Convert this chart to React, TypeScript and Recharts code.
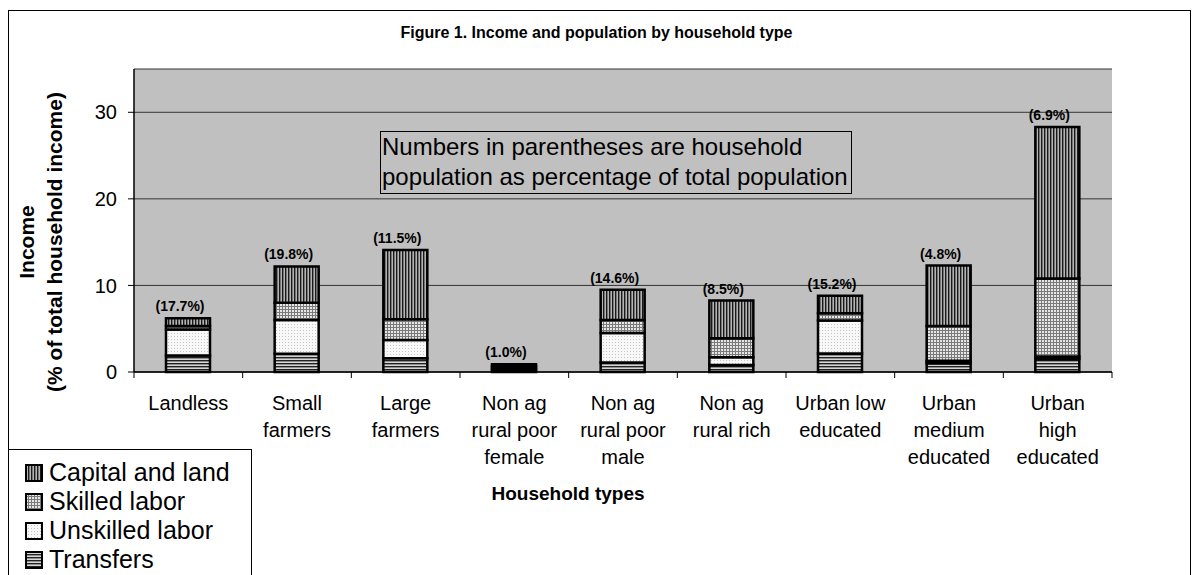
import React from 'react';
import { BarChart, Bar, XAxis, YAxis, CartesianGrid, Legend, LabelList } from 'recharts';

const categories = [
  'Landless',
  'Small\nfarmers',
  'Large\nfarmers',
  'Non ag\nrural poor\nfemale',
  'Non ag\nrural poor\nmale',
  'Non ag\nrural rich',
  'Urban low\neducated',
  'Urban\nmedium\neducated',
  'Urban\nhigh\neducated',
];
const transfers = [1.9, 2.1, 1.6, 0.2, 1.1, 0.8, 2.15, 1.0, 1.5];
const unskilled = [3.0, 3.9, 2.1, 0.2, 3.4, 0.9, 3.8, 0.3, 0.3];
const skilled = [0.4, 2.0, 2.4, 0.3, 1.5, 2.2, 0.85, 4.0, 9.0];
const capital = [0.9, 4.2, 8.0, 0.2, 3.5, 4.35, 2.0, 7.0, 17.5];
const population = ['17.7', '19.8', '11.5', '1.0', '14.6', '8.5', '15.2', '4.8', '6.9'];
const yTicks = [0, 10, 20, 30];

const data = categories.map((name, i) => ({
  name,
  transfers: transfers[i],
  unskilled: unskilled[i],
  skilled: skilled[i],
  capital: capital[i],
  pop: population[i],
}));

const legendItems = [
  { label: 'Capital and land', fill: 'url(#pat-capital)' },
  { label: 'Skilled labor', fill: 'url(#pat-skilled)' },
  { label: 'Unskilled labor', fill: 'url(#pat-unskilled)' },
  { label: 'Transfers', fill: 'url(#pat-transfers)' },
];

const FONT = '"Liberation Sans", Arial, sans-serif';

// label lines centred under the bar, tick marks sit on the category boundaries
const CategoryTick = ({ x, y, payload, index }: any) => {
  const lines = String(payload.value).split('\n');
  const half = payload.offset || 0;
  const last = index === categories.length - 1;
  return (
    <g>
      <line x1={x - half} x2={x - half} y1={y} y2={y + 6} stroke="#000" />
      {last && <line x1={x + half} x2={x + half} y1={y} y2={y + 6} stroke="#000" />}
      {lines.map((l, i) => (
        <text key={i} x={x} y={y + 38 + i * 27} textAnchor="middle" fontSize={20} fill="#000" fontFamily={FONT}>
          {l}
        </text>
      ))}
    </g>
  );
};

const PopLabel = (props: any) => {
  const { x, y, width, value } = props;
  return (
    <text x={x + width / 2 - 8} y={y - 7} textAnchor="middle" fontSize={14} fontWeight="bold" fill="#000" fontFamily={FONT}>
      ({value}%)
    </text>
  );
};

const YLabel = () => (
  <g fontFamily={FONT} fontWeight="bold" fontSize={21} fill="#000">
    <text x={34} y={242} textAnchor="middle" transform="rotate(-90, 34, 242)">Income</text>
    <text x={62} y={242} textAnchor="middle" transform="rotate(-90, 62, 242)">(% of total household income)</text>
  </g>
);

const XLabel = () => (
  <text x={568} y={500} textAnchor="middle" fontFamily={FONT} fontWeight="bold" fontSize={19} fill="#000">
    Household types
  </text>
);

const LegendBox = () => (
  <div
    style={{
      border: '1px solid #000',
      background: '#fff',
      width: 244,
      height: 140,
      fontFamily: FONT,
      fontSize: 25,
      color: '#000',
      paddingTop: 8,
      boxSizing: 'border-box',
    }}
  >
    {legendItems.map((it) => (
      <div key={it.label} style={{ display: 'flex', alignItems: 'center', height: 29, paddingLeft: 16 }}>
        <svg width={18} height={18} style={{ marginRight: 6 }}>
          <rect x={1} y={1} width={16} height={16} fill={it.fill} stroke="#000" strokeWidth={2} />
        </svg>
        <span>{it.label}</span>
      </div>
    ))}
  </div>
);

export default function App() {
  return (
    <div style={{ position: 'absolute', left: 0, top: 0, width: 1193, height: 575, overflow: 'hidden', background: '#fff' }}>
      <div style={{ position: 'absolute', left: 8, top: 10, width: 1181, height: 620, border: '1px solid #000' }} />
      <div
        style={{
          position: 'absolute',
          left: 0,
          top: 24,
          width: 1193,
          textAlign: 'center',
          fontFamily: FONT,
          fontWeight: 'bold',
          fontSize: 16,
        }}
      >
        Figure 1. Income and population by household type
      </div>
      <div style={{ position: 'absolute', left: 0, top: 0 }}>
        <BarChart width={1193} height={575} data={data} margin={{ top: 69, right: 81, left: 0, bottom: 0 }} barSize={44}>
          <defs>
            <pattern id="pat-capital" width={3} height={3} patternUnits="userSpaceOnUse">
              <rect width={3} height={3} fill="#b4b4b4" />
              <rect width={1.4} height={3} fill="#1a1a1a" />
            </pattern>
            <pattern id="pat-skilled" width={3} height={3} patternUnits="userSpaceOnUse">
              <rect width={3} height={3} fill="#e6e6e6" />
              <rect width={3} height={1} fill="#7a7a7a" />
              <rect width={1} height={3} fill="#7a7a7a" />
            </pattern>
            <pattern id="pat-unskilled" width={3} height={3} patternUnits="userSpaceOnUse">
              <rect width={3} height={3} fill="#f8f8f8" />
              <rect width={1} height={1} fill="#c4c4c4" />
            </pattern>
            <pattern id="pat-transfers" width={3} height={3} patternUnits="userSpaceOnUse">
              <rect width={3} height={3} fill="#d6d6d6" />
              <rect width={3} height={1.4} fill="#222" />
            </pattern>
          </defs>
          <CartesianGrid xAxisId="cat" yAxisId="left" vertical={false} fill="#c0c0c0" stroke="#333" strokeWidth={1} />
          <XAxis
            xAxisId="cat"
            dataKey="name"
            height={203}
            interval={0}
            tickLine={false}
            tickSize={0}
            tickMargin={0}
            axisLine={{ stroke: '#000', strokeWidth: 1.5 }}
            tick={<CategoryTick />}
            label={<XLabel />}
          />
          <XAxis xAxisId="top" orientation="top" height={0} tick={false} tickLine={false} axisLine={{ stroke: '#808080', strokeWidth: 2 }} />
          <YAxis
            yAxisId="left"
            width={134}
            domain={[0, 35]}
            ticks={yTicks}
            interval={0}
            tickSize={6}
            tickMargin={11}
            axisLine={{ stroke: '#000', strokeWidth: 1.5 }}
            tickLine={{ stroke: '#000' }}
            tick={{ fontSize: 20, fill: '#000', fontFamily: FONT }}
            label={<YLabel />}
          />
          <YAxis yAxisId="right" orientation="right" width={0} tick={false} tickLine={false} axisLine={{ stroke: '#808080', strokeWidth: 2 }} />
          <Legend
            layout="vertical"
            align="center"
            verticalAlign="middle"
            content={<LegendBox />}
            wrapperStyle={{ left: 8, top: 449, width: 246 }}
          />
          <Bar xAxisId="cat" yAxisId="left" dataKey="transfers" stackId="a" fill="url(#pat-transfers)" stroke="#000" strokeWidth={2.5} isAnimationActive={false} />
          <Bar xAxisId="cat" yAxisId="left" dataKey="unskilled" stackId="a" fill="url(#pat-unskilled)" stroke="#000" strokeWidth={2.5} isAnimationActive={false} />
          <Bar xAxisId="cat" yAxisId="left" dataKey="skilled" stackId="a" fill="url(#pat-skilled)" stroke="#000" strokeWidth={2.5} isAnimationActive={false} />
          <Bar xAxisId="cat" yAxisId="left" dataKey="capital" stackId="a" fill="url(#pat-capital)" stroke="#000" strokeWidth={2.5} isAnimationActive={false}>
            <LabelList dataKey="pop" content={<PopLabel />} />
          </Bar>
        </BarChart>
      </div>
      <div
        style={{
          position: 'absolute',
          left: 380,
          top: 131,
          width: 472,
          height: 63,
          border: '1px solid #000',
          fontFamily: FONT,
          fontSize: 24,
          lineHeight: '30px',
          color: '#000',
          paddingLeft: 1,
          boxSizing: 'border-box',
          whiteSpace: 'nowrap',
        }}
      >
        Numbers in parentheses are household
        <br />
        population as percentage of total population
      </div>
    </div>
  );
}
